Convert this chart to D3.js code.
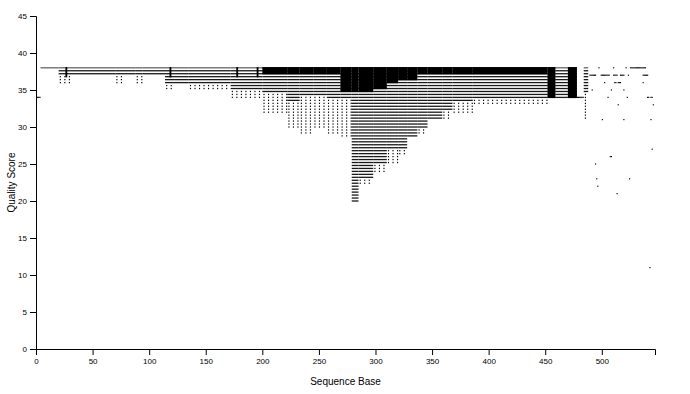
<!DOCTYPE html>
<html>
<head>
<meta charset="utf-8">
<script src="https://cdn.jsdelivr.net/npm/d3@7/dist/d3.min.js"></script>
<style>
  body { margin: 0; background: #fff; }
  svg { display: block; font-family: 'Liberation Sans', Arial, sans-serif; }
  .axis text { font-size: 8px; fill: #000; }
  .axis path, .axis line { stroke: #000; }
  .axis-label { font-size: 10px; fill: #000; }
</style>
</head>
<body>
<svg id="chart" width="690" height="394"></svg>
<script>
// quality levels the reads stack on (one stripe each)
const levels = [38, 37.6, 37.2, 36.8, 36.4, 36, 35.6, 35.2, 34.8, 34.4, 34, 33.6, 33.2, 32.8,
  32.4, 32, 31.6, 31.2, 30.8, 30.4, 30, 29.6, 29.2, 28.8, 28.4, 28, 27.6, 27.2, 26.8, 26.4,
  26, 25.6, 25.2, 24.8, 24.4, 24, 23.6, 23.2, 22.8, 22.4, 22, 21.6, 21.2, 20.8, 20.4, 20]

// base ranges
const segStart = [4, 20, 30, 70, 76, 88, 94, 114, 122, 135, 172, 200, 222, 233, 245, 257, 269, 279,
  285, 298, 310, 320, 328, 337, 346, 359, 368, 386, 452, 459, 470, 484]
const segEnd = [20, 30, 70, 76, 88, 94, 114, 122, 135, 172, 200, 222, 233, 245, 257, 269, 279, 285,
  298, 310, 320, 328, 337, 346, 359, 368, 386, 452, 459, 470, 478, 488]
// score down to which the column is solid black (null = none)
const solidFloor = [null, null, null, null, null, null, null, null, null, null, null, 37.2, 37.2,
  37.2, 37.2, 37.2, 34.8, 34.8, 34.8, 35.2, 36, 36.4, 36.4, 37.2, 37.2, 37.2, 37.2, 37.2, 34, null,
  34, null]
// lowest continuous stripe
const bandFloor = [38, 37.2, 37.2, 37.2, 37.2, 37.2, 37.2, 36, 36, 36, 35.2, 34.8, 33.6, 34.4, 34.4,
  34, 34, 20, 23.2, 25.2, 27.2, 27.2, 28.8, 30, 31.2, 32.4, 33.6, 34, 34, 34, 34, 34.8]
// lowest scattered score
const dotFloor = [38, 36, 37.2, 36, 37.2, 36, 37.2, 35.2, 36, 35.2, 34, 32, 30, 29.2, 30, 29.2,
  28.8, 20, 22.4, 24, 25.2, 26.4, 28.8, 29.2, 31.2, 31.2, 32, 33.2, 34, 34, 34, 31.2]

const barBases = [26, 118, 177, 195]
const barFloor = [36.8, 36.8, 36.8, 36.8]

const extraBase = [0, 1, 2, 3, 478, 479, 480, 481, 482, 483]
const extraScore = [34, 34, 34, 34, 34, 34, 34, 34, 34, 34]

const tailBase = [497, 510, 521, 525, 526, 527, 528, 529, 530, 531, 532, 533, 534, 535, 536, 537, 538,
  489, 490, 491, 492, 493, 494, 499, 500, 501, 502, 503, 504, 505, 506, 510, 511, 512, 513,
  516, 517, 518, 519, 523, 536, 537, 538, 539, 540,
  502, 511, 512, 514, 515, 516, 536,
  491, 508, 519,
  505, 522, 540, 541, 543, 544,
  514, 545,
  500, 519, 543,
  544, 507, 508, 494, 495, 524, 496, 513, 542]
const tailScore = [38, 38, 38, 38, 38, 38, 38, 38, 38, 38, 38, 38, 38, 38, 38, 38, 38,
  37, 37, 37, 37, 37, 37, 37, 37, 37, 37, 37, 37, 37, 37, 37, 37, 37, 37,
  37, 37, 37, 37, 37, 37, 37, 37, 37, 37,
  36, 36, 36, 36, 36, 36, 36,
  35, 35, 35,
  34, 34, 34, 34, 34, 34,
  33, 33,
  31, 31, 31,
  27, 26, 26, 25, 23, 23, 22, 21, 11]

const xTicks = [0, 50, 100, 150, 200, 250, 300, 350, 400, 450, 500]
const yTicks = [0, 5, 10, 15, 20, 25, 30, 35, 40, 45]

const margin = { left: 36, right: 35, top: 16, bottom: 45 }
const svg = d3.select('#chart')
const width = +svg.attr('width')
const height = +svg.attr('height')

const x = d3.scaleLinear().domain([0, 547]).range([margin.left, width - margin.right])
const y = d3.scaleLinear().domain([0, 45]).range([height - margin.bottom, margin.top])

const marks = svg.append('g').attr('fill', '#000')
const rowH = 1.3

segStart.forEach((s, i) => {
  const e = segEnd[i]
  if (solidFloor[i] !== null) {
    marks.append('rect')
      .attr('x', x(s)).attr('width', x(e) - x(s))
      .attr('y', y(38) - rowH / 2)
      .attr('height', y(solidFloor[i]) - y(38) + rowH)
  }
  levels.filter(l => l >= bandFloor[i]).forEach(l => {
    marks.append('rect')
      .attr('x', x(s)).attr('width', x(e) - x(s))
      .attr('y', y(l) - rowH / 2).attr('height', rowH)
      .attr('fill-opacity', l === 38 && solidFloor[i] === null ? 0.6 : 0.9)
  })
  // sparse dotted columns below the stripes
  const dots = levels.filter(l => l < bandFloor[i] && l >= dotFloor[i])
  for (let b = s + 1; b < e; b += 4) {
    dots.forEach(l => {
      marks.append('rect')
        .attr('x', x(b)).attr('width', x(b + 1) - x(b))
        .attr('y', y(l) - rowH / 2).attr('height', rowH)
    })
  }
})

barBases.forEach((b, i) => {
  marks.append('rect')
    .attr('x', x(b)).attr('width', x(b + 1.6) - x(b))
    .attr('y', y(38) - rowH / 2)
    .attr('height', y(barFloor[i]) - y(38) + rowH)
})

extraBase.forEach((b, i) => {
  marks.append('rect')
    .attr('x', x(b)).attr('width', x(b + 1) - x(b))
    .attr('y', y(extraScore[i]) - rowH / 2).attr('height', rowH)
})

tailBase.forEach((b, i) => {
  marks.append('rect')
    .attr('x', x(b)).attr('width', x(b + 1) - x(b))
    .attr('y', y(tailScore[i]) - 0.6).attr('height', 1.2)
})

const xAxisG = svg.append('g')
  .attr('class', 'axis axis--x')
  .attr('transform', `translate(0, ${height - margin.bottom})`)
  .call(d3.axisBottom(x).tickValues(xTicks).tickFormat(d3.format('d')))
const yAxisG = svg.append('g')
  .attr('class', 'axis axis--y')
  .attr('transform', `translate(${margin.left}, 0)`)
  .call(d3.axisLeft(y).tickValues(yTicks).tickFormat(d3.format('d')))

svg.append('text')
  .attr('class', 'axis-label')
  .attr('x', (margin.left + width - margin.right) / 2)
  .attr('y', 385)
  .style('text-anchor', 'middle')
  .text('Sequence Base')
svg.append('text')
  .attr('class', 'axis-label')
  .attr('transform', `translate(15, ${(margin.top + height - margin.bottom) / 2}) rotate(-90)`)
  .style('text-anchor', 'middle')
  .text('Quality Score')
</script>
</body>
</html>
